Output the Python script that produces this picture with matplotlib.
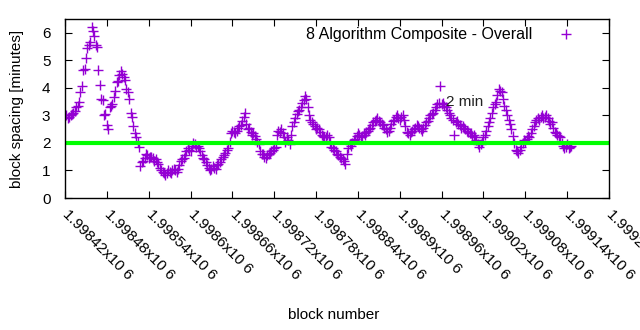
import matplotlib
matplotlib.use("Agg")
import matplotlib.pyplot as plt
import numpy as np

plt.rcParams['font.family'] = ['Liberation Sans', 'DejaVu Sans']

# block numbers: samples every 4 blocks, plus the blocks in between
first_block = 1998422
block_step = 4

# block spacing in minutes (blocks first_block + 4*i)
spacing = [
    3.0, 2.95, 3.05, 3.15, 3.35, 3.85, 4.65, 5.1, 5.55, 6.2,
    5.9, 5.5, 4.1, 3.55, 3.05, 2.5, 3.35, 3.65, 4.2, 4.45,
    4.5, 4.3, 3.85, 3.1, 2.6, 2.2, 1.85, 1.3, 1.45, 1.55,
    1.5, 1.45, 1.4, 1.25, 1.0, 0.9, 0.9, 0.95, 1.0, 1.0,
    1.05, 1.35, 1.45, 1.7, 1.75, 1.9, 1.95, 1.9, 1.7, 1.45,
    1.3, 1.1, 1.05, 1.1, 1.2, 1.3, 1.5, 1.65, 1.8, 2.35,
    2.4, 2.45, 2.6, 2.8, 3.1, 2.5, 2.4, 2.35, 2.15, 1.95,
    1.6, 1.5, 1.55, 1.65, 1.75, 1.85, 2.45, 2.5, 2.2, 2.2,
    1.95, 2.6, 2.9, 3.15, 3.3, 3.55, 3.6, 3.0, 2.75, 2.6,
    2.55, 2.4, 2.25, 2.2, 2.2, 1.85, 1.75, 1.6, 1.5, 1.4,
    1.25, 1.8, 1.9, 2.1, 2.25, 2.3, 2.25, 2.3, 2.45, 2.55,
    2.75, 2.85, 2.8, 2.7, 2.55, 2.4, 2.55, 2.8, 2.95, 2.9,
    2.95, 2.85, 2.4, 2.3, 2.45, 2.55, 2.6, 2.5, 2.55, 2.75,
    2.9, 3.05, 3.2, 3.4, 4.05, 3.45, 3.3, 3.1, 2.9, 2.3,
    2.8, 2.65, 2.6, 2.5, 2.4, 2.35, 2.3, 2.1, 1.85, 2.05,
    2.3, 2.6, 2.9, 3.3, 3.5, 3.95, 3.85, 3.35, 3.0, 2.7,
    2.25, 1.75, 1.65, 1.85, 2.1, 2.15, 2.2, 2.5, 2.75, 2.9,
    2.95, 2.9, 3.0, 2.8, 2.75, 2.4, 2.3, 2.2, 1.9, 1.85,
    1.8, 1.9,
]
# blocks first_block + 2 + 4*i
spacing_between = [
    2.9, 3.0, 3.1, 3.3, 3.5, 4.05, 4.7, 5.45, 5.65, 6.05,
    5.55, 4.65, 3.6, 3.0, 2.65, 3.3, 3.4, 3.9, 4.25, 4.6,
    4.4, 3.95, 3.6, 2.95, 2.35, 2.05, 1.15, 1.35, 1.6, 1.45,
    1.5, 1.35, 1.3, 1.1, 0.95, 0.85, 1.0, 0.9, 1.05, 0.95,
    1.2, 1.4, 1.55, 1.8, 1.7, 2.0, 1.85, 1.8, 1.55, 1.4,
    1.2, 1.0, 1.15, 1.05, 1.25, 1.4, 1.55, 1.75, 2.05, 2.45,
    2.35, 2.55, 2.65, 2.95, 2.7, 2.55, 2.3, 2.25, 2.05, 1.7,
    1.6, 1.45, 1.6, 1.7, 1.8, 2.3, 2.4, 2.35, 2.05, 2.1,
    2.3, 2.75, 3.05, 3.2, 3.45, 3.7, 3.3, 2.85, 2.7, 2.5,
    2.5, 2.3, 2.2, 2.3, 2.05, 1.8, 1.7, 1.55, 1.45, 1.35,
    1.6, 1.95, 2.0, 2.15, 2.35, 2.2, 2.35, 2.4, 2.5, 2.65,
    2.8, 2.9, 2.75, 2.65, 2.5, 2.45, 2.7, 2.85, 3.0, 2.85,
    3.0, 2.6, 2.35, 2.4, 2.5, 2.65, 2.55, 2.45, 2.65, 2.8,
    3.0, 3.1, 3.3, 3.45, 3.4, 3.35, 3.2, 3.0, 2.85, 2.75,
    2.7, 2.55, 2.55, 2.45, 2.35, 2.25, 2.2, 1.95, 1.95, 2.2,
    2.45, 2.75, 3.1, 3.4, 3.75, 3.9, 3.6, 3.2, 2.85, 2.5,
    2.0, 1.7, 1.75, 2.0, 2.05, 2.25, 2.35, 2.6, 2.85, 2.85,
    3.0, 2.95, 2.9, 2.7, 2.55, 2.35, 2.25, 2.0, 1.8, 1.95,
    1.85,
]
blocks = np.concatenate([first_block + block_step * np.arange(len(spacing)),
                         first_block + 2 + block_step * np.arange(len(spacing_between))])
values = np.concatenate([spacing, spacing_between])

target_minutes = 2
x_ticks = [1998420 + 60 * k for k in range(14)]
x_tick_labels = ['1.99842x10 6', '1.99848x10 6', '1.99854x10 6', '1.9986x10 6',
                 '1.99866x10 6', '1.99872x10 6', '1.99878x10 6', '1.99884x10 6',
                 '1.9989x10 6', '1.99896x10 6', '1.99902x10 6', '1.99908x10 6',
                 '1.99914x10 6', '1.9992x10 6']

fs = 11
fig = plt.figure(figsize=(6.4, 3.3), dpi=100)
ax = fig.add_axes([65 / 640, 132 / 330, 544 / 640, 179 / 330])

ax.plot(blocks, values, linestyle='none', marker='+', markersize=6.5,
        markeredgewidth=1.0, color='#9400d3', label='8 Algorithm Composite - Overall')
ax.plot([1998423, 1999197], [target_minutes, target_minutes], color='#00ff00', linewidth=3)
ax.text(1998966, 3.5, '2 min', fontsize=fs, va='center', ha='left', color='#222222')

ax.set_xlim(1998420, 1999200)
ax.set_ylim(0, 6.5)
ax.set_xticks(x_ticks)
ax.set_xticklabels(x_tick_labels, rotation=-45, ha='left', va='center',
                   rotation_mode='anchor', fontsize=fs)
ax.set_yticks(range(7))
ax.tick_params(axis='both', direction='in', top=True, right=True, length=5,
               labelsize=fs, colors='black')
ax.tick_params(axis='x', pad=10)
ax.tick_params(axis='y', pad=10.5)
for s in ax.spines.values():
    s.set_linewidth(1)

ax.set_xlabel('block number', fontsize=fs)
ax.set_ylabel('block spacing [minutes]', fontsize=fs)
ax.xaxis.set_label_coords(0.4945, -0.6145)
ax.yaxis.set_label_coords(-0.0754, 0.5)

ax.legend(loc='upper right', markerfirst=False, frameon=False, fontsize=11.5,
          bbox_to_anchor=(0.962, 1.035), handletextpad=1.6, handlelength=1)

fig.savefig('out.png', dpi=100)
